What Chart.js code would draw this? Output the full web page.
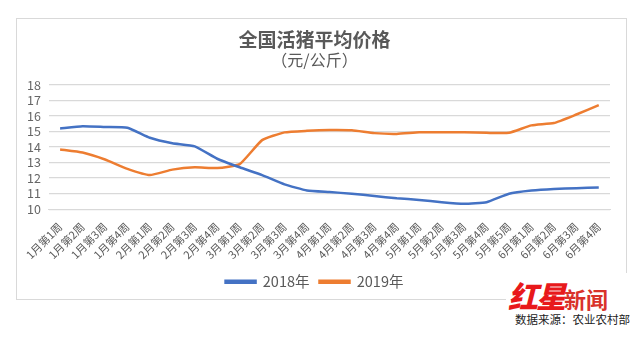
<!DOCTYPE html>
<html>
<head>
<meta charset="utf-8">
<script src="https://cdn.jsdelivr.net/npm/chart.js@4.4.1/dist/chart.umd.min.js"></script>
<style>
    body { margin: 0; background: #fff; width: 641px; height: 337px; position: relative; overflow: hidden; }
    #box { position: absolute; left: 16px; top: 18px; width: 611px; height: 282px; box-sizing: border-box; border: 1px solid #d9d9d9; }
    #mark { position: absolute; left: 506px; top: 273px; width: 135px; height: 64px; background: #fff; }
    #mark .logo { position: absolute; left: 2px; top: 0; color: #e8191b; white-space: nowrap; }
    #mark .hx { font-family: "Noto Sans CJK SC"; font-weight: 900; font-style: italic; font-size: 30px; letter-spacing: -2px; }
    #mark .xw { font-family: "Noto Sans CJK SC"; font-weight: 700; font-size: 22px; color: #d9322a; }
    #mark .src { position: absolute; left: 9px; top: 38px; font-family: "Noto Sans CJK SC"; font-size: 11.5px; color: #222; white-space: nowrap; }
</style>
</head>
<body>
<div id="box"><canvas id="priceChart" width="609" height="280"></canvas></div>
<div id="mark">
    <div class="logo"><span class="hx">红星</span><span class="xw">新闻</span></div>
    <div class="src">数据来源：农业农村部</div>
</div>
<script>
// Dữ liệu biểu đồ
var categories = [
    '1月第1周', '1月第2周', '1月第3周', '1月第4周',
    '2月第1周', '2月第2周', '2月第3周', '2月第4周',
    '3月第1周', '3月第2周', '3月第3周', '3月第4周',
    '4月第1周', '4月第2周', '4月第3周', '4月第4周',
    '5月第1周', '5月第2周', '5月第3周', '5月第4周', '5月第5周',
    '6月第1周', '6月第2周', '6月第3周', '6月第4周'
];
var prices2018 = [15.2, 15.35, 15.3, 15.25, 14.6, 14.25, 14.05, 13.25, 12.7, 12.2, 11.6, 11.2,
    11.1, 11.0, 10.85, 10.7, 10.6, 10.45, 10.35, 10.45, 11.0, 11.2, 11.3, 11.35, 11.4];
var prices2019 = [13.85, 13.65, 13.2, 12.6, 12.2, 12.55, 12.7, 12.65, 12.9, 14.45, 14.95, 15.05,
    15.1, 15.08, 14.9, 14.85, 14.95, 14.95, 14.95, 14.92, 14.92, 15.4, 15.55, 16.1, 16.7];
var yMin = 10;
var yMax = 18;

var gray = '#595959';
var cjk = '"Noto Sans CJK SC", "Microsoft YaHei", sans-serif';

document.addEventListener("DOMContentLoaded", function () {
    var ctx = document.getElementById('priceChart').getContext('2d');
    new Chart(ctx, {
        type: 'line',
        data: {
            labels: categories,
            datasets: [{
                    label: '2018年',
                    data: prices2018,
                    borderColor: '#4472C4',
                    backgroundColor: '#4472C4',
                    borderWidth: 2.5,
                    pointRadius: 0,
                    tension: 0.15
                }, {
                    label: '2019年',
                    data: prices2019,
                    borderColor: '#ED7D31',
                    backgroundColor: '#ED7D31',
                    borderWidth: 2.5,
                    pointRadius: 0,
                    tension: 0.15
                }]
        },
        options: {
            responsive: false,
            animation: false,
            layout: {
                padding: { left: 2, right: 16, top: 0, bottom: 0 }
            },
            scales: {
                x: {
                    offset: true,
                    grid: { display: false },
                    border: { color: '#d9d9d9', width: 1 },
                    ticks: {
                        autoSkip: false,
                        maxRotation: 45,
                        minRotation: 45,
                        color: gray,
                        padding: 3,
                        font: { family: cjk, size: 11 }
                    }
                },
                y: {
                    min: yMin,
                    max: yMax,
                    border: { display: false },
                    grid: { color: '#d9d9d9', lineWidth: 1.3, drawTicks: false },
                    ticks: {
                        stepSize: 1,
                        autoSkip: false,
                        color: '#666',
                        padding: 8,
                        font: { family: cjk, size: 12.5 }
                    }
                }
            },
            plugins: {
                title: {
                    display: true,
                    text: '全国活猪平均价格',
                    color: gray,
                    font: { family: cjk, size: 19, weight: 'bold' },
                    padding: { top: 9, bottom: 0 }
                },
                subtitle: {
                    display: true,
                    text: '（元/公斤）',
                    color: gray,
                    font: { family: cjk, size: 16 },
                    padding: { top: 0, bottom: 15 }
                },
                legend: {
                    position: 'bottom',
                    labels: {
                        color: gray,
                        boxWidth: 30,
                        boxHeight: 2,
                        padding: 10,
                        font: { family: cjk, size: 14.5 }
                    }
                },
                tooltip: { enabled: false }
            }
        }
    });
});
</script>
</body>
</html>
